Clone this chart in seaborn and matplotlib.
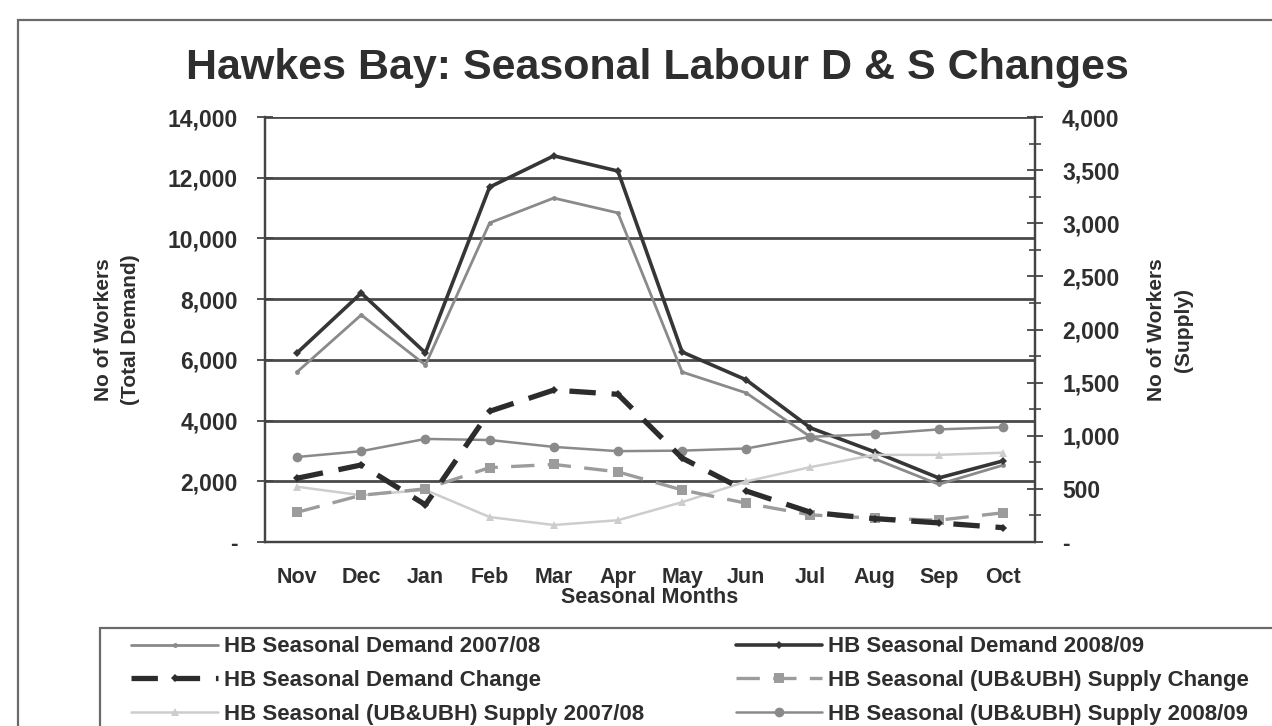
import matplotlib
matplotlib.use("Agg")
import matplotlib.pyplot as plt
import matplotlib.ticker as mticker
from matplotlib.patches import Rectangle
from matplotlib.lines import Line2D
import seaborn as sns

# Seasonal months (Nov -> Oct)
months = ["Nov", "Dec", "Jan", "Feb", "Mar", "Apr", "May", "Jun", "Jul", "Aug", "Sep", "Oct"]

# Total seasonal demand (left axis)
demand_0708 = [5600, 7480, 5830, 10510, 11330, 10840, 5600, 4910, 3460, 2740, 1900, 2530]
demand_0809 = [6230, 8200, 6230, 11690, 12720, 12220, 6260, 5340, 3760, 2970, 2110, 2670]

# Demand change and supply series (right axis)
demand_change = [600, 725, 350, 1230, 1430, 1390, 790, 480, 280, 220, 180, 135]
supply_change = [280, 440, 500, 700, 730, 660, 490, 365, 255, 225, 205, 275]
supply_0708 = [520, 440, 490, 235, 160, 205, 375, 570, 705, 820, 820, 840]
supply_0809 = [800, 855, 970, 960, 895, 855, 860, 880, 990, 1015, 1060, 1080]

sns.set_theme(style="white")
plt.rcParams["font.family"] = ["Liberation Sans", "DejaVu Sans"]
plt.rcParams["font.weight"] = "bold"

TXT = "#2e2e2e"
W, H = 1272, 726
fig = plt.figure(figsize=(W / 100, H / 100), dpi=100)
ax = fig.add_axes([265 / W, 1 - 542 / H, (1035 - 265) / W, (542 - 117) / H])
ax2 = ax.twinx()

common = dict(sort=False, legend=False)

# Line styles shared by the plot and the legend
st_d07 = dict(color="#8a8a8a", lw=2.0, marker="o", markersize=3.5, markeredgewidth=0)
st_d08 = dict(color="#363636", lw=2.6, marker="D", markersize=4, markeredgewidth=0)
st_s07 = dict(color="#cdcdcd", lw=1.8, marker="^", markersize=5.5, markeredgewidth=0)
st_s08 = dict(color="#8a8a8a", lw=1.8, marker="o", markersize=7, markeredgewidth=0)
st_sch = dict(color="#9c9c9c", lw=2.4, linestyle=(0, (7, 4)), marker="s",
              markersize=7, markeredgewidth=0)
st_dch = dict(color="#2c2c2c", lw=3.8, linestyle=(0, (5, 3)), marker="D",
              markersize=4.5, markeredgewidth=0)

# Demand lines (left axis)
sns.lineplot(x=months, y=demand_0708, ax=ax, **st_d07, **common)
sns.lineplot(x=months, y=demand_0809, ax=ax, **st_d08, **common)

# Change and supply lines (right axis)
sns.lineplot(x=months, y=supply_0708, ax=ax2, **st_s07, **common)
sns.lineplot(x=months, y=supply_0809, ax=ax2, **st_s08, **common)
sns.lineplot(x=months, y=supply_change, ax=ax2, **st_sch, **common)
sns.lineplot(x=months, y=demand_change, ax=ax2, **st_dch, **common)

# Axis ranges and ticks
ax.set_xlim(-0.5, len(months) - 0.5)
ax.set_ylim(0, 14000)
ax2.set_ylim(0, 4000)


def thousands(v, pos):
    return "-" if abs(v) < 1e-9 else f"{v:,.0f}"


ax.yaxis.set_major_locator(mticker.MultipleLocator(2000))
ax.yaxis.set_major_formatter(mticker.FuncFormatter(thousands))
ax2.yaxis.set_major_locator(mticker.MultipleLocator(500))
ax2.yaxis.set_minor_locator(mticker.MultipleLocator(250))
ax2.yaxis.set_major_formatter(mticker.FuncFormatter(thousands))

ax.set_xticks(range(len(months)))
ax.set_xticklabels(months)
ax.xaxis.set_minor_locator(mticker.FixedLocator([i - 0.5 for i in range(len(months) + 1)]))
ax.tick_params(axis="x", which="major", length=0, pad=18, labelsize=15.5, labelcolor=TXT)
ax.tick_params(axis="x", which="minor", length=6, width=1.3, color="#444", direction="out")
ax.tick_params(axis="y", which="major", length=11, width=1.3, color="#444",
               direction="inout", pad=14, labelsize=16.5, labelcolor=TXT)
ax2.tick_params(axis="y", which="major", length=11, width=1.3, color="#444",
                direction="inout", pad=14, labelsize=16.5, labelcolor=TXT)
ax2.tick_params(axis="y", which="minor", length=8, width=1.2, color="#444",
                direction="inout")
ax2.tick_params(axis="x", length=0)

# Horizontal grid at the demand ticks
ax.yaxis.grid(True, color="#4a4a4a", lw=2.0)
ax.set_axisbelow(True)

for a in (ax, ax2):
    a.spines["top"].set_visible(False)
    for s in ("left", "right", "bottom"):
        a.spines[s].set_color("#444444")
        a.spines[s].set_linewidth(1.6)
ax2.patch.set_visible(False)

ax.set_xlabel("Seasonal Months", fontsize=15.5, fontweight="bold", color=TXT, labelpad=-1)
ax.set_ylabel("No of Workers\n(Total Demand)", fontsize=15, fontweight="bold",
              color=TXT, labelpad=20, linespacing=1.5)
ax2.set_ylabel("No of Workers\n(Supply)", fontsize=15, fontweight="bold",
               color=TXT, labelpad=20, linespacing=1.5)

fig.text(657 / W, 1 - 68 / H, "Hawkes Bay: Seasonal Labour D & S Changes",
         ha="center", va="center", fontsize=31, fontweight="bold", color=TXT)

# Legend (column-major order for two columns)
handles = [Line2D([], [], **st_d07), Line2D([], [], **st_dch), Line2D([], [], **st_s07),
           Line2D([], [], **st_d08), Line2D([], [], **st_sch), Line2D([], [], **st_s08)]
labels = [
    "HB Seasonal Demand 2007/08",
    "HB Seasonal Demand Change",
    "HB Seasonal (UB&UBH) Supply 2007/08",
    "HB Seasonal Demand 2008/09",
    "HB Seasonal (UB&UBH) Supply Change",
    "HB Seasonal (UB&UBH) Supply 2008/09",
]
fig.legend(handles, labels, ncol=2, mode="expand", loc="upper left",
           bbox_to_anchor=(118 / W, 0, (1262 - 118) / W, 1 - 623 / H),
           frameon=False, handlelength=3.9, handletextpad=0.25,
           labelspacing=0.58, borderaxespad=0.2,
           prop={"size": 16, "weight": "bold"}, labelcolor=TXT)

# Outer chart border and legend box
fig.add_artist(Rectangle((18 / W, -0.1), 1.2, 1 - 20 / H + 0.1, transform=fig.transFigure,
                         fill=False, edgecolor="#6a6a6a", lw=1.6))
fig.add_artist(Rectangle((100 / W, -0.1), 1.2, 1 - 628 / H + 0.1, transform=fig.transFigure,
                         fill=False, edgecolor="#6a6a6a", lw=1.6))

fig.savefig("out.png", dpi=100, facecolor="white")
